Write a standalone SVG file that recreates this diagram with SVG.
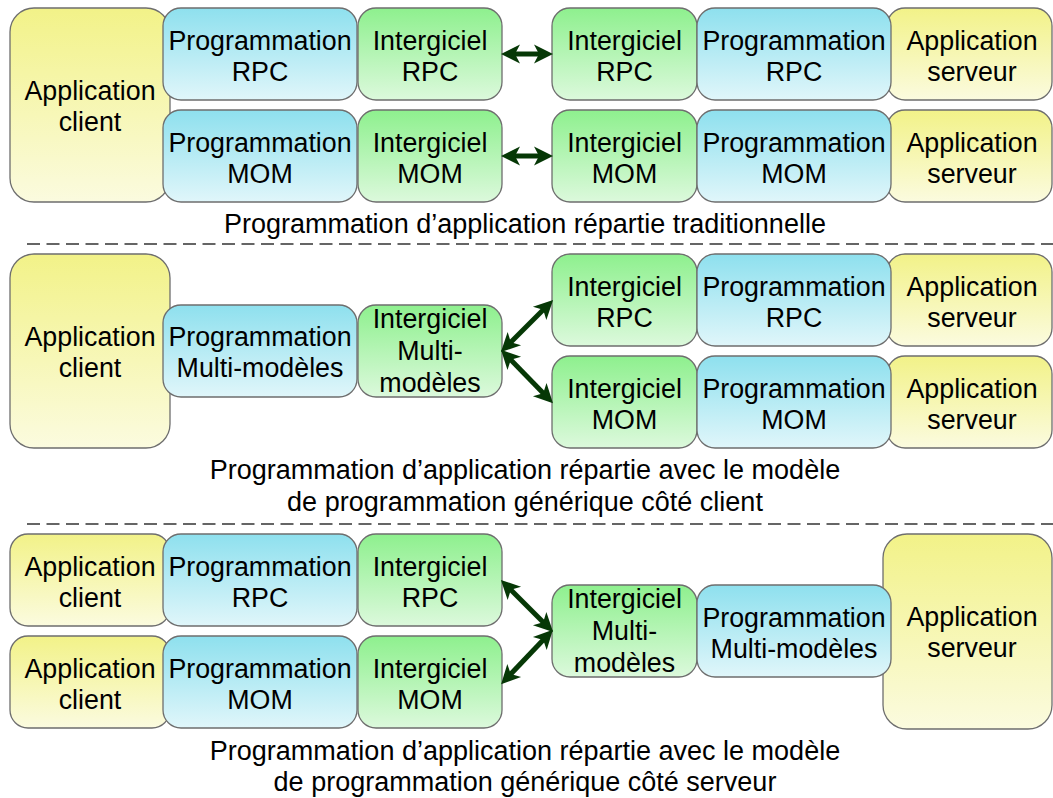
<svg xmlns="http://www.w3.org/2000/svg" width="1053" height="798" viewBox="0 0 1053 798">
<defs>
<linearGradient id="gY" x1="0" y1="0" x2="0" y2="1"><stop offset="0" stop-color="#f2f288"/><stop offset="1" stop-color="#fbfbdf"/></linearGradient>
<linearGradient id="gB" x1="0" y1="0" x2="0" y2="1"><stop offset="0" stop-color="#8ee0ee"/><stop offset="1" stop-color="#e0f6fa"/></linearGradient>
<linearGradient id="gG" x1="0" y1="0" x2="0" y2="1"><stop offset="0" stop-color="#8ef08e"/><stop offset="1" stop-color="#dcf9dc"/></linearGradient>
<marker id="ah" markerUnits="userSpaceOnUse" markerWidth="22" markerHeight="22" viewBox="0 0 22 22" refX="9" refY="11" orient="auto-start-reverse">
<path d="M0,1.5 L19,11 L0,20.5 L5,11 Z" fill="#063806"/>
</marker>
<style>
.y{fill:url(#gY);stroke:#6e6e6e;stroke-width:1.3}
.b{fill:url(#gB);stroke:#6e6e6e;stroke-width:1.3}
.g{fill:url(#gG);stroke:#6e6e6e;stroke-width:1.3}
text{font-family:"Liberation Sans",Arial,sans-serif;font-size:26.8px;fill:#000;text-anchor:middle}
.cap text{font-size:27px}
.ar{stroke:#063806;stroke-width:5;fill:none;marker-start:url(#ah);marker-end:url(#ah)}
.dash{stroke:#333;stroke-width:1.5;stroke-dasharray:13 6.5}
</style>
</defs>
<rect width="1053" height="798" fill="#fff"/>

<!-- Section 1 -->
<g id="s1-appclient"><rect class="y" x="10" y="8" width="160" height="194" rx="24"/><text x="90" y="100">Application</text><text x="90" y="131">client</text></g>
<g id="s1-appserveur1"><rect class="y" x="887" y="8" width="165" height="92" rx="18"/><text x="972" y="50">Application</text><text x="972" y="81">serveur</text></g>
<g id="s1-appserveur2"><rect class="y" x="887" y="110" width="165" height="92" rx="18"/><text x="972" y="152">Application</text><text x="972" y="183">serveur</text></g>
<g id="s1-progrpc-c"><rect class="b" x="163" y="8" width="194" height="92" rx="18"/><text x="260" y="50">Programmation</text><text x="260" y="81">RPC</text></g>
<g id="s1-progmom-c"><rect class="b" x="163" y="110" width="194" height="92" rx="18"/><text x="260" y="152">Programmation</text><text x="260" y="183">MOM</text></g>
<g id="s1-intrpc-c"><rect class="g" x="358" y="8" width="144" height="92" rx="18"/><text x="430" y="50">Intergiciel</text><text x="430" y="81">RPC</text></g>
<g id="s1-intmom-c"><rect class="g" x="358" y="110" width="144" height="92" rx="18"/><text x="430" y="152">Intergiciel</text><text x="430" y="183">MOM</text></g>
<g id="s1-intrpc-s"><rect class="g" x="552" y="8" width="145" height="92" rx="18"/><text x="624.5" y="50">Intergiciel</text><text x="624.5" y="81">RPC</text></g>
<g id="s1-intmom-s"><rect class="g" x="552" y="110" width="145" height="92" rx="18"/><text x="624.5" y="152">Intergiciel</text><text x="624.5" y="183">MOM</text></g>
<g id="s1-progrpc-s"><rect class="b" x="697" y="8" width="194" height="92" rx="18"/><text x="794" y="50">Programmation</text><text x="794" y="81">RPC</text></g>
<g id="s1-progmom-s"><rect class="b" x="697" y="110" width="194" height="92" rx="18"/><text x="794" y="152">Programmation</text><text x="794" y="183">MOM</text></g>
<g id="cap1" class="cap"><text x="525" y="233">Programmation d’application répartie traditionnelle</text></g>

<!-- Section 2 -->
<g id="s2-appclient"><rect class="y" x="10" y="254" width="160" height="194" rx="24"/><text x="90" y="346">Application</text><text x="90" y="377">client</text></g>
<g id="s2-appserveur1"><rect class="y" x="887" y="254" width="165" height="92" rx="18"/><text x="972" y="296">Application</text><text x="972" y="327">serveur</text></g>
<g id="s2-appserveur2"><rect class="y" x="887" y="356" width="165" height="92" rx="18"/><text x="972" y="398">Application</text><text x="972" y="429">serveur</text></g>
<g id="s2-progmulti"><rect class="b" x="163" y="305" width="194" height="92" rx="18"/><text x="260" y="346">Programmation</text><text x="260" y="377">Multi-modèles</text></g>
<g id="s2-intmulti"><rect class="g" x="358" y="305" width="144" height="92" rx="18"/><text x="430" y="328">Intergiciel</text><text x="430" y="360">Multi-</text><text x="430" y="392">modèles</text></g>
<g id="s2-intrpc"><rect class="g" x="552" y="254" width="145" height="92" rx="18"/><text x="624.5" y="296">Intergiciel</text><text x="624.5" y="327">RPC</text></g>
<g id="s2-intmom"><rect class="g" x="552" y="356" width="145" height="92" rx="18"/><text x="624.5" y="398">Intergiciel</text><text x="624.5" y="429">MOM</text></g>
<g id="s2-progrpc"><rect class="b" x="697" y="254" width="194" height="92" rx="18"/><text x="794" y="296">Programmation</text><text x="794" y="327">RPC</text></g>
<g id="s2-progmom"><rect class="b" x="697" y="356" width="194" height="92" rx="18"/><text x="794" y="398">Programmation</text><text x="794" y="429">MOM</text></g>
<g id="cap2" class="cap"><text x="525" y="479">Programmation d’application répartie avec le modèle</text><text x="525" y="511">de programmation générique côté client</text></g>

<!-- Section 3 -->
<g id="s3-appclient1"><rect class="y" x="10" y="534" width="160" height="92" rx="18"/><text x="90" y="576">Application</text><text x="90" y="607">client</text></g>
<g id="s3-appclient2"><rect class="y" x="10" y="636" width="160" height="92" rx="18"/><text x="90" y="678">Application</text><text x="90" y="709">client</text></g>
<g id="s3-appserveur"><rect class="y" x="883" y="534" width="169" height="195" rx="24"/><text x="972" y="626">Application</text><text x="972" y="657">serveur</text></g>
<g id="s3-progrpc"><rect class="b" x="163" y="534" width="194" height="92" rx="18"/><text x="260" y="576">Programmation</text><text x="260" y="607">RPC</text></g>
<g id="s3-progmom"><rect class="b" x="163" y="636" width="194" height="92" rx="18"/><text x="260" y="678">Programmation</text><text x="260" y="709">MOM</text></g>
<g id="s3-intrpc"><rect class="g" x="358" y="534" width="144" height="92" rx="18"/><text x="430" y="576">Intergiciel</text><text x="430" y="607">RPC</text></g>
<g id="s3-intmom"><rect class="g" x="358" y="636" width="144" height="92" rx="18"/><text x="430" y="678">Intergiciel</text><text x="430" y="709">MOM</text></g>
<g id="s3-intmulti"><rect class="g" x="552" y="585" width="145" height="92" rx="18"/><text x="624.5" y="608">Intergiciel</text><text x="624.5" y="640">Multi-</text><text x="624.5" y="672">modèles</text></g>
<g id="s3-progmulti"><rect class="b" x="697" y="585" width="194" height="92" rx="18"/><text x="794" y="627">Programmation</text><text x="794" y="658">Multi-modèles</text></g>
<g id="cap3" class="cap"><text x="525" y="760">Programmation d’application répartie avec le modèle</text><text x="525" y="791">de programmation générique côté serveur</text></g>

<!-- Separators -->
<g id="separators">
<line class="dash" x1="27" y1="244" x2="1053" y2="244"/>
<line class="dash" x1="27" y1="524" x2="1053" y2="524"/>
</g>

<!-- Connectors -->
<g id="connectors">
<line class="ar" x1="511" y1="54" x2="543" y2="54"/>
<line class="ar" x1="511" y1="156" x2="543" y2="156"/>
<line class="ar" x1="508" y1="345" x2="546" y2="307"/>
<line class="ar" x1="508" y1="357" x2="546" y2="396"/>
<line class="ar" x1="508" y1="587" x2="546" y2="625"/>
<line class="ar" x1="508" y1="677" x2="546" y2="637"/>
</g>
</svg>
